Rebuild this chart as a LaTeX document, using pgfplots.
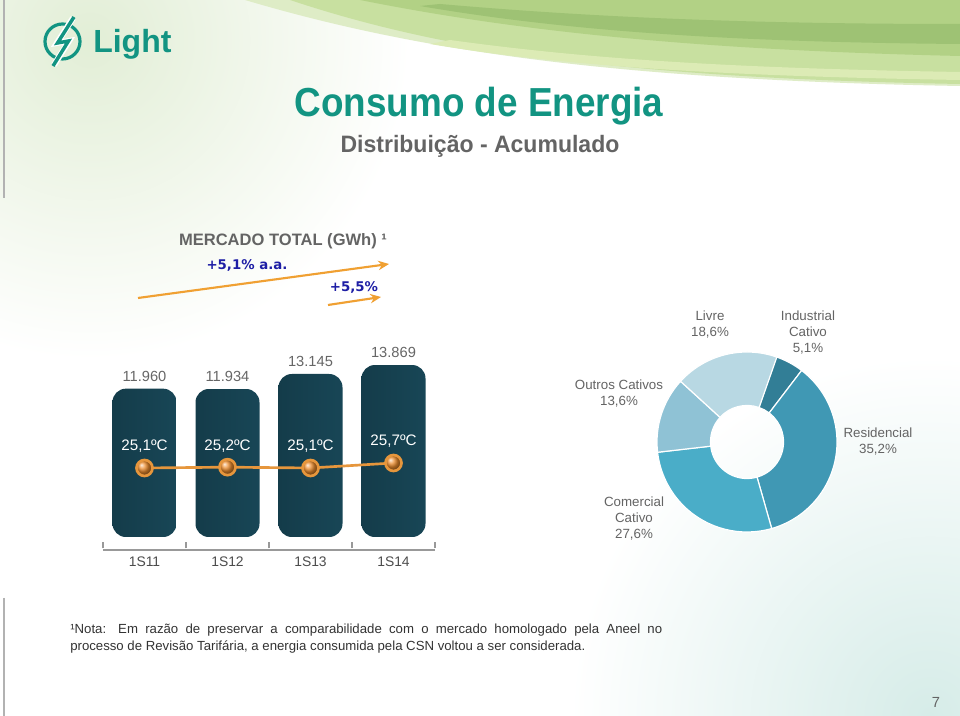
\documentclass[border=0pt]{standalone}
\usepackage{pgfplots}
\pgfplotsset{compat=1.18}
\usepackage{fontspec}
\setmainfont{Liberation Sans}
\newfontfamily\dejavu{DejaVu Sans}
\usetikzlibrary{arrows.meta}
\definecolor{teal1}{RGB}{18,148,130}
\definecolor{greyT}{RGB}{100,100,100}
\definecolor{barD}{RGB}{20,60,74}
\definecolor{barM}{RGB}{38,100,120}
\definecolor{barR}{RGB}{24,70,86}
\definecolor{orL}{RGB}{230,150,60}
\definecolor{orB}{RGB}{236,140,45}
\definecolor{arrowO}{RGB}{240,160,50}
\definecolor{blueT}{RGB}{30,30,165}
\definecolor{cInd}{RGB}{50,126,150}
\definecolor{cRes}{RGB}{64,152,180}
\definecolor{cCom}{RGB}{74,173,200}
\definecolor{cOut}{RGB}{143,194,213}
\definecolor{cLiv}{RGB}{184,216,227}
\definecolor{gr1}{RGB}{200,224,160}
\definecolor{gr2}{RGB}{178,209,133}
\definecolor{gr3}{RGB}{158,194,116}
\definecolor{gr4}{RGB}{220,235,181}
\begin{document}
\begin{tikzpicture}[x=0.75pt,y=0.75pt]
\useasboundingbox (0,0) rectangle (960,716);
\fill[white] (0,0) rectangle (960,716);
\begin{scope}
\clip (0,0) rectangle (960,716);
\begin{scope}[shift={(0,716)},yscale=-1]
\shade[inner color={rgb,255:red,226;green,238;blue,214}, outer color=white] (90,40) circle (320);
\shade[inner color={rgb,255:red,214;green,236;blue,232}, outer color=white] (930,716) circle (360);
% swoosh
\fill[gr1!60] (245,0) .. controls (420,52) and (620,80) .. (960,86) -- (960,0) -- cycle;
\fill[gr1] (290,0) .. controls (440,50) and (620,78) .. (960,84) -- (960,0) -- cycle;
\fill[gr2] (360,0) .. controls (520,32) and (700,50) .. (960,56) -- (960,0) -- cycle;
\fill[gr3] (420,6) .. controls (560,30) and (720,42) .. (960,44) -- (960,24) .. controls (760,24) and (600,18) .. (440,4) -- cycle;
\fill[gr4] (430,44) .. controls (560,66) and (720,76) .. (960,80) -- (960,72) .. controls (720,68) and (580,58) .. (450,40) -- cycle;
\draw[black!30, line width=1pt] (4,0) -- (4,198);
\draw[black!30, line width=1pt] (4,598) -- (4,716);
\end{scope}
\end{scope}

% bar chart
\begin{axis}[
  at={(77.25pt,134.25pt)}, anchor=south west, scale only axis,
  width=249pt, height=148.8pt,
  xmin=-0.5, xmax=3.5, ymin=0, ymax=16000,
  axis y line=none, axis x line*=bottom,
  x axis line style={yshift=-9.75pt, draw=black!40, line width=0.9pt},
  xtick={0,1,2,3}, xticklabels={1S11,1S12,1S13,1S14},
  major tick length=0pt,
  minor xtick={-0.5,0.5,1.5,2.5,3.5},
  minor tick length=5pt,
  minor tick style={yshift=-8.5pt, draw=black!40, line width=0.9pt},
  xticklabel style={yshift=-11pt, font=\fontsize{10.4}{12}\selectfont, text=black!70},
  clip=false,
  nodes near coords, point meta=explicit symbolic,
  every node near coord/.append style={font=\fontsize{11}{13}\selectfont, text=black!60, yshift=2pt},
]
\addplot[ybar, bar width=48pt, bar shift=0pt, draw=none, left color=barD, middle color=barM, right color=barR, rounded corners=10pt] coordinates {(0,11960) [11.960]};
\addplot[ybar, bar width=48pt, bar shift=0pt, draw=none, left color=barD, middle color=barM, right color=barR, rounded corners=10pt] coordinates {(1,11934) [11.934]};
\addplot[ybar, bar width=48pt, bar shift=0pt, draw=none, left color=barD, middle color=barM, right color=barR, rounded corners=10pt] coordinates {(2,13145) [13.145]};
\addplot[ybar, bar width=48pt, bar shift=0pt, draw=none, left color=barD, middle color=barM, right color=barR, rounded corners=10pt] coordinates {(3,13869) [13.869]};
\end{axis}

% temperature line
\begin{axis}[
  at={(77.25pt,134.25pt)}, anchor=south west, scale only axis,
  width=249pt, height=148.8pt,
  xmin=-0.5, xmax=3.5, ymin=16.82, ymax=40.63,
  hide axis, clip=false,
]
\addplot[color=orL, line width=2pt, mark=ball, mark size=6pt, mark options={ball color=orB},
  nodes near coords, point meta=explicit symbolic,
  every node near coord/.append style={text=white, font=\fontsize{11.4}{13}\selectfont, yshift=7pt}]
  coordinates {(0,25.1) [25,1ºC] (1,25.2) [25,2ºC] (2,25.1) [25,1ºC] (3,25.7) [25,7ºC]};
\end{axis}

% donut
\begin{axis}[
  at={(560.25pt,205.5pt)}, anchor=center, scale only axis,
  width=135pt, height=135pt,
  xmin=-1, xmax=1, ymin=-1, ymax=1,
  hide axis, clip=false,
]
\pgfplotsextra{
  \xdef\startang{71}
  \foreach \v/\c in {5.1/cInd, 35.2/cRes, 27.6/cCom, 13.6/cOut, 18.6/cLiv}{
    \pgfmathsetmacro\endang{\startang-3.6*\v}
    \fill[\c, draw=white, line width=0.9pt] (axis cs:0,0) ++(\startang:67.5pt)
      arc[start angle=\startang, end angle=\endang, radius=67.5pt]
      -- ++(\endang:-40.1pt)
      arc[start angle=\endang, end angle=\startang, radius=27.4pt] -- cycle;
    \xdef\startang{\endang}
  }
}
\end{axis}

\begin{scope}[shift={(0,716)},yscale=-1]
% logo
\draw[teal1, line width=2.4pt] (62.5,41.5) circle (17.5);
\draw[white, line width=4.5pt] (73,18) -- (57,43) -- (69,41) -- (54,65);
\draw[teal1, line width=2.6pt, line join=miter] (74,17) -- (57.5,43) -- (68.5,41) -- (53,66);
\node[anchor=base west, inner sep=0, text=teal1, font=\fontsize{24}{28}\selectfont\bfseries] at (93,53) {Light};
% titles
\node[anchor=base, inner sep=0, text=teal1, font=\fontsize{30.4}{34}\selectfont\bfseries] at (479,117) {\scalebox{0.91}[1]{Consumo de Energia}};
\node[anchor=base, inner sep=0, text=greyT, font=\fontsize{17.8}{20}\selectfont\bfseries] at (480,153) {\scalebox{0.97}[1]{Distribuição - Acumulado}};
\node[anchor=base, inner sep=0, text=greyT, font=\fontsize{12.4}{14}\selectfont\bfseries] at (283,246) {MERCADO TOTAL (GWh) ¹};
% growth arrows
\draw[arrowO, line width=1.6pt, -{Stealth[length=8pt,width=7pt]}] (138,298) -- (389,264);
\draw[arrowO, line width=1.6pt, -{Stealth[length=8pt,width=7pt]}] (328,305) -- (381,297);
\node[anchor=base, inner sep=0, text=blueT, font=\dejavu\fontsize{10}{12}\selectfont\bfseries] at (247,270) {+5,1\% a.a.};
\node[anchor=base, inner sep=0, text=blueT, font=\dejavu\fontsize{10}{12}\selectfont\bfseries] at (354,292) {+5,5\%};
% donut labels
\node[align=center, text=greyT, font=\fontsize{10}{12}\selectfont, inner sep=0] at (710,325) {Livre\\18,6\%};
\node[align=center, text=greyT, font=\fontsize{10}{12}\selectfont, inner sep=0] at (808,333) {Industrial\\Cativo\\5,1\%};
\node[align=center, text=greyT, font=\fontsize{10}{12}\selectfont, inner sep=0] at (619,394) {Outros Cativos\\13,6\%};
\node[align=center, text=greyT, font=\fontsize{10}{12}\selectfont, inner sep=0] at (878,442) {Residencial\\35,2\%};
\node[align=center, text=greyT, font=\fontsize{10}{12}\selectfont, inner sep=0] at (634,519) {Comercial\\Cativo\\27,6\%};
% note
\node[anchor=north west, inner sep=0, text=black!80, font=\fontsize{9.9}{12.75}\selectfont] at (70,624) {\parbox{444pt}{¹Nota: Em razão de preservar a comparabilidade com o mercado homologado pela Aneel no\linebreak processo de Revisão Tarifária, a energia consumida pela CSN voltou a ser considerada.}};
\node[text=greyT, font=\fontsize{11}{13}\selectfont, inner sep=0] at (936,702) {7};
\end{scope}
\end{tikzpicture}
\end{document}
